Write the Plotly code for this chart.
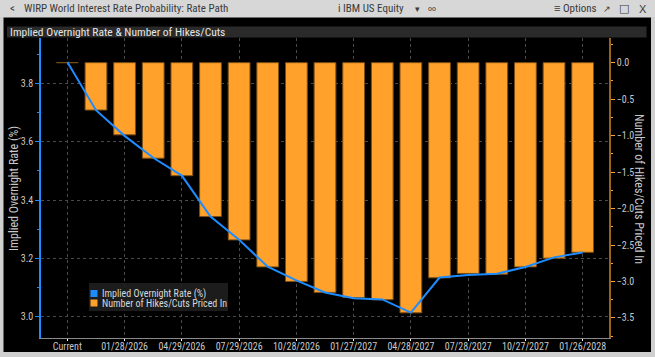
import plotly.graph_objects as go

# ---- data ----
meeting_dates = ["Current", "12/10/2025", "01/28/2026", "03/18/2026", "04/29/2026",
                 "06/17/2026", "07/29/2026", "09/16/2026", "10/28/2026", "12/09/2026",
                 "01/27/2027", "03/17/2027", "04/28/2027", "06/16/2027", "07/28/2027",
                 "09/22/2027", "10/27/2027", "12/08/2027", "01/26/2028"]
implied_rate = [3.873, 3.708, 3.620, 3.545, 3.484, 3.344, 3.264, 3.172, 3.125, 3.084,
                3.064, 3.060, 3.015, 3.135, 3.144, 3.148, 3.171, 3.204, 3.221]
hikes_cuts = [0.0, -0.65, -0.99, -1.31, -1.55, -2.11, -2.43, -2.80, -3.00, -3.15,
              -3.22, -3.25, -3.43, -2.95, -2.89, -2.90, -2.80, -2.68, -2.60]
tick_dates = meeting_dates[::2]
series_names = ["Implied Overnight Rate (%)", "Number of Hikes/Cuts Priced In"]

W, H = 655, 357
L, R, T, B = 41, 46, 38, 19
PW, PH = W - L - R, H - T - B

def px(x):
    return (x - L) / PW

def py(y):
    return (H - B - y) / PH

FONT = "Liberation Sans Narrow, Arial Narrow, Roboto Condensed, Liberation Sans, sans-serif"
TXT = "#c8c8c8"
BLUE = "#1e8cff"
ORANGE = "#ffa12b"

fig = go.Figure()

fig.add_trace(go.Bar(
    x=meeting_dates, y=hikes_cuts, name=series_names[1],
    marker=dict(color=ORANGE, line=dict(color="#7a4e14", width=1)),
    width=0.76, yaxis="y", showlegend=False))

fig.add_trace(go.Scatter(
    x=meeting_dates, y=implied_rate, name=series_names[0],
    mode="lines", line=dict(color=BLUE, width=2), yaxis="y2", showlegend=False))

shapes = [
    # top chrome bar
    dict(type="rect", xref="paper", yref="paper", x0=px(0), x1=px(W), y0=py(17.5), y1=py(0),
         fillcolor="#d7d7d7", line=dict(width=0), layer="below"),
    # left / right / bottom borders
    dict(type="rect", xref="paper", yref="paper", x0=px(0), x1=px(3.5), y0=py(H), y1=py(17),
         fillcolor="#cfcfcf", line=dict(width=0), layer="below"),
    dict(type="rect", xref="paper", yref="paper", x0=px(651), x1=px(W), y0=py(H), y1=py(17),
         fillcolor="#cfcfcf", line=dict(width=0), layer="below"),
    dict(type="rect", xref="paper", yref="paper", x0=px(0), x1=px(W), y0=py(H), y1=py(352),
         fillcolor="#cfcfcf", line=dict(width=0), layer="below"),
    # subtitle bar
    dict(type="rect", xref="paper", yref="paper", x0=px(7), x1=px(646.5), y0=py(37.5), y1=py(26.5),
         fillcolor="#2a2a2a", line=dict(width=0), layer="below"),
    # legend box and swatches
    dict(type="rect", xref="paper", yref="paper", x0=px(89), x1=px(228), y0=py(311), y1=py(283),
         fillcolor="rgba(30,30,30,0.92)", line=dict(width=0), layer="above"),
    dict(type="rect", xref="paper", yref="paper", x0=px(90.5), x1=px(97.5), y0=py(297), y1=py(290),
         fillcolor=BLUE, line=dict(width=0), layer="above"),
    dict(type="rect", xref="paper", yref="paper", x0=px(90.5), x1=px(97.5), y0=py(306.5), y1=py(299.5),
         fillcolor=ORANGE, line=dict(width=0), layer="above"),
]

def ann(text, x, y, size=10, color="#333333", xanchor="left", angle=0, font=FONT):
    return dict(text=text, x=px(x), y=py(y), xref="paper", yref="paper", showarrow=False,
                xanchor=xanchor, yanchor="middle", textangle=angle,
                font=dict(family=font, size=size, color=color))

annotations = [
    ann("<", 8, 9, size=11, color="#444444"),
    ann("WIRP World Interest Rate Probability: Rate Path", 22, 9, size=11, color="#3a3a3a"),
    ann("i IBM US Equity", 336, 9, size=11, color="#3a3a3a"),
    ann("▾", 413, 9, size=9, color="#3a3a3a"),
    ann("oo", 426, 8.5, size=8, color="#3a3a3a"),
    ann("≡ Options", 552, 9, size=11, color="#3a3a3a"),
    ann("↗", 601, 9, size=9, color="#3a3a3a"),
    ann("□", 624, 9, size=11, color="#3a3a3a", xanchor="center", font="DejaVu Sans"),
    ann("X", 643, 9, size=11, color="#3a3a3a", xanchor="center", font="Liberation Sans"),
    ann("Implied Overnight Rate & Number of Hikes/Cuts", 8, 32, size=11.5, color="#e6e6e6"),
    ann("Implied Overnight Rate (%)", 14, 189, size=12, color=TXT, xanchor="center", angle=-90),
    ann("Number of Hikes/Cuts Priced In", 639, 189, size=12, color=TXT, xanchor="center", angle=90),
    ann(series_names[0], 99.5, 293.5, size=10, color="#d8d8d8"),
    ann(series_names[1], 99.5, 303, size=10, color="#d8d8d8"),
]

fig.update_layout(
    width=W, height=H,
    margin=dict(l=L, r=R, t=T, b=B, pad=0),
    paper_bgcolor="#000000", plot_bgcolor="#000000",
    barmode="overlay",
    showlegend=False,
    font=dict(family=FONT, size=10, color=TXT),
    shapes=shapes, annotations=annotations,
    xaxis=dict(type="category", range=[-0.92, 18.92], automargin=False,
               tickvals=tick_dates, ticktext=tick_dates,
               showgrid=True, gridcolor="#4a4a4a", griddash="dot", gridwidth=1,
               showline=True, linecolor="#8a8a8a", linewidth=1,
               ticks="outside", ticklen=2, tickcolor="#ffffff", ticklabelstandoff=-3,
               tickfont=dict(family=FONT, size=10, color=TXT), zeroline=False),
    yaxis=dict(side="right", range=[-3.775, 0.338], dtick=0.5, tick0=0, tickformat=".1f",
               showgrid=False, zeroline=False, automargin=False,
               showline=True, linecolor="#9a6418", linewidth=1.5,
               ticks="outside", ticklen=4, tickcolor=ORANGE,
               minor=dict(dtick=0.25, ticks="outside", ticklen=2, tickcolor=ORANGE),
               tickfont=dict(family=FONT, size=10, color=TXT)),
    yaxis2=dict(side="left", overlaying="y", range=[2.928, 3.955], dtick=0.2, tick0=3.0,
                tickformat=".1f", automargin=False,
                showgrid=True, gridcolor="#4a4a4a", griddash="dot", gridwidth=1,
                zeroline=False, showline=True, linecolor=BLUE, linewidth=1.5,
                ticks="outside", ticklen=4, tickcolor=BLUE,
                minor=dict(dtick=0.1, ticks="outside", ticklen=2, tickcolor=BLUE),
                tickfont=dict(family=FONT, size=10, color=TXT)),
)

fig.write_html("out.html", config={"displayModeBar": False},
               post_script="document.body.style.margin='0';document.body.style.overflow='hidden';")
